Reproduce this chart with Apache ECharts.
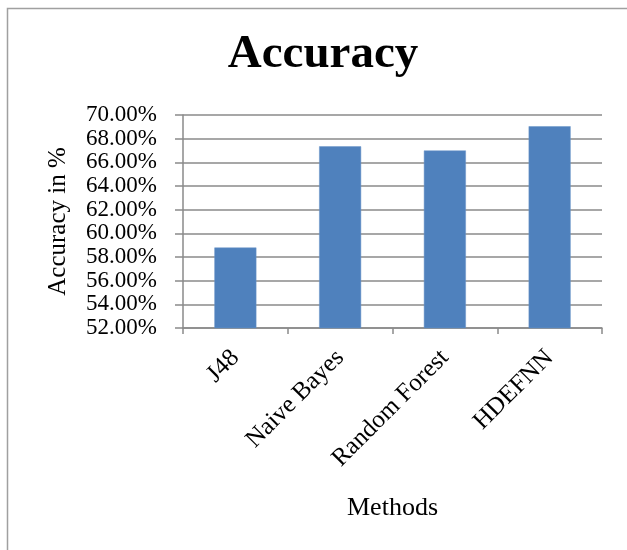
<!DOCTYPE html>
<html>
<head>
<meta charset="utf-8">
<script src="https://cdn.jsdelivr.net/npm/echarts@6/dist/echarts.min.js"></script>
<style>
  html, body { margin: 0; padding: 0; background: #fff; }
  #chart { width: 627px; height: 550px; }
</style>
</head>
<body>
<div id="chart"></div>
<script>
// Classifier accuracy comparison
const methods = ['J48', 'Naive Bayes', 'Random Forest', 'HDEFNN'];
const accuracy = [58.8, 67.35, 67.0, 69.05];
const yTicks = { min: 52, max: 70, interval: 2 };

const serif = '"Liberation Serif", "Times New Roman", serif';
const axisGrey = '#8a8a8a';

const chart = echarts.init(document.getElementById('chart'), null, { renderer: 'canvas' });
chart.setOption({
  backgroundColor: '#fff',
  animation: false,
  title: {
    text: 'Accuracy',
    left: 318,
    top: 26,
    textAlign: 'center',
    textStyle: { fontFamily: serif, fontSize: 47, fontWeight: 'bold', color: '#000' }
  },
  graphic: [{
    type: 'rect',
    shape: { x: 7.5, y: 8.5, width: 700, height: 700 },
    style: { fill: 'none', stroke: '#a0a0a0', lineWidth: 1.5 },
    silent: true
  }],
  grid: { left: 183, right: 25, top: 115, bottom: 222, containLabel: false },
  xAxis: {
    type: 'category',
    data: methods,
    name: 'Methods',
    nameLocation: 'middle',
    nameGap: 167,
    nameTextStyle: { fontFamily: serif, fontSize: 26, color: '#000' },
    axisLine: { show: true, lineStyle: { color: axisGrey, width: 1.5 } },
    axisTick: { show: true, length: 6, lineStyle: { color: axisGrey, width: 1.5 } },
    axisLabel: {
      rotate: 45,
      margin: 26,
      fontFamily: serif,
      fontSize: 25,
      color: '#000',
      interval: 0
    },
    splitLine: { show: false }
  },
  yAxis: {
    type: 'value',
    min: yTicks.min,
    max: yTicks.max,
    interval: yTicks.interval,
    name: 'Accuracy in %',
    nameLocation: 'middle',
    nameGap: 112,
    nameRotate: 90,
    nameTextStyle: { fontFamily: serif, fontSize: 25, color: '#000' },
    axisLine: { show: true, lineStyle: { color: axisGrey, width: 1.5 } },
    axisTick: { show: true, length: 8, lineStyle: { color: axisGrey, width: 1.5 } },
    axisLabel: {
      margin: 26,
      fontFamily: serif,
      fontSize: 23,
      color: '#000',
      showMinLabel: true,
      showMaxLabel: true,
      formatter: v => v.toFixed(2) + '%'
    },
    splitLine: { show: true, lineStyle: { color: axisGrey, width: 1.5 } }
  },
  series: [{
    type: 'bar',
    data: accuracy,
    barWidth: 42,
    itemStyle: { color: '#4F81BD', borderColor: '#6b95c9', borderWidth: 0.5 }
  }]
});
</script>
</body>
</html>
